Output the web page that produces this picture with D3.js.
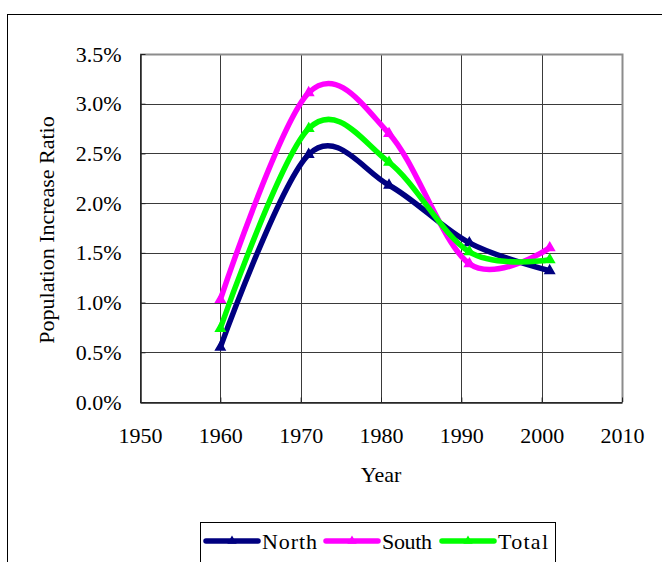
<!DOCTYPE html>
<html>
<head>
<meta charset="utf-8">
<script src="https://cdn.jsdelivr.net/npm/d3@7"></script>
<style>
  html, body { margin: 0; padding: 0; background: #fff; }
  svg { display: block; font-family: "Liberation Serif", "Times New Roman", serif; }
</style>
</head>
<body>
<svg id="chart" width="662" height="562"></svg>
<script>
// Census years and annual population increase ratio per region
const years = [1960, 1971, 1981, 1991, 2001];
const north = [0.0055, 0.0249, 0.0218, 0.0160, 0.0132];
const south = [0.0103, 0.0311, 0.0270, 0.0139, 0.0155];
const total = [0.0074, 0.0275, 0.0241, 0.0151, 0.0143];

const seriesNames = ["North", "South", "Total"];
const seriesColors = ["#000080", "#ff00ff", "#00ff00"];
const seriesValues = [north, south, total];

const xTicks = [1950, 1960, 1970, 1980, 1990, 2000, 2010];
const yTicks = [0, 0.005, 0.010, 0.015, 0.020, 0.025, 0.030, 0.035];

const svg = d3.select("#chart");
const plot = { left: 140, top: 54, right: 622, bottom: 402 };
const FONT = "Liberation Serif, Times New Roman, serif";

// outer chart frame (runs off the right and bottom edges)
svg.append("rect")
  .attr("x", 7.5).attr("y", 14.5)
  .attr("width", 700).attr("height", 600)
  .attr("fill", "#fff").attr("stroke", "#000").attr("stroke-width", 1);

const x = d3.scaleLinear().domain([1950, 2010]).range([plot.left, plot.right]);
const y = d3.scaleLinear().domain([0, 0.035]).range([plot.bottom, plot.top]);

// gridlines
const grid = svg.append("g");
grid.selectAll("line.h").data(yTicks).join("line")
  .attr("x1", plot.left).attr("x2", plot.right)
  .attr("y1", d => Math.round(y(d)) + 0.5).attr("y2", d => Math.round(y(d)) + 0.5)
  .attr("stroke", "#3a3a3a").attr("stroke-width", 1);
grid.selectAll("line.v").data(xTicks).join("line")
  .attr("y1", plot.top).attr("y2", plot.bottom)
  .attr("x1", d => Math.round(x(d)) + 0.5).attr("x2", d => Math.round(x(d)) + 0.5)
  .attr("stroke", "#3a3a3a").attr("stroke-width", 1);

// plot frame: grey top/right edges, dark axes
svg.append("path")
  .attr("d", `M${plot.left},${plot.top + 0.5}H${plot.right + 0.5}V${plot.bottom}`)
  .attr("fill", "none").attr("stroke", "#8c8c8c").attr("stroke-width", 2);

const yAxis = d3.axisLeft(y).tickValues(yTicks).tickFormat(d3.format(".1%"))
  .tickSizeInner(-5).tickSizeOuter(0).tickPadding(19);
const gy = svg.append("g").attr("transform", `translate(${plot.left + 0.5},0)`).call(yAxis)
  .attr("font-family", FONT);
gy.select(".domain").attr("stroke", "#222").attr("stroke-width", 1.5);
gy.selectAll(".tick line").attr("stroke", "#222");
gy.selectAll(".tick text").attr("font-size", 22).attr("fill", "#000");

const xAxis = d3.axisBottom(x).tickValues(xTicks).tickFormat(d3.format("d"))
  .tickSizeInner(-5).tickSizeOuter(0).tickPadding(25);
const gx = svg.append("g").attr("transform", `translate(0,${plot.bottom + 0.5})`).call(xAxis)
  .attr("font-family", FONT);
gx.select(".domain").attr("stroke", "#222").attr("stroke-width", 1.5);
gx.selectAll(".tick line").attr("stroke", "#222");
gx.selectAll(".tick text").attr("font-size", 22).attr("fill", "#000");

// axis titles
svg.append("text")
  .attr("transform", "translate(54,230) rotate(-90)")
  .attr("text-anchor", "middle").attr("font-size", 22)
  .text("Population Increase Ratio");
svg.append("text")
  .attr("x", 381).attr("y", 482)
  .attr("text-anchor", "middle").attr("font-size", 22)
  .text("Year");

// smoothed series lines with triangle markers
const line = d3.line()
  .x((d, i) => x(years[i]))
  .y(d => y(d))
  .curve(d3.curveCatmullRom.alpha(0));
const tri = d3.symbol().type(d3.symbolTriangle).size(38);

seriesValues.forEach((vals, s) => {
  const g = svg.append("g");
  g.append("path")
    .attr("d", line(vals))
    .attr("fill", "none")
    .attr("stroke", seriesColors[s])
    .attr("stroke-width", 5.5)
    .attr("stroke-linejoin", "round")
    .attr("stroke-linecap", "butt");
  g.selectAll("path.m").data(vals).join("path")
    .attr("class", "m")
    .attr("d", tri)
    .attr("transform", (d, i) => `translate(${x(years[i])},${y(d)})`)
    .attr("fill", seriesColors[s])
    .attr("stroke", seriesColors[s])
    .attr("stroke-width", 1.5);
});

// legend
const legend = svg.append("g");
legend.append("rect")
  .attr("x", 200.5).attr("y", 522.5)
  .attr("width", 355).attr("height", 60)
  .attr("fill", "#fff").attr("stroke", "#000").attr("stroke-width", 1);
const legendX = [206, 326, 442];
const legendTextLen = [55, 50, 50];
seriesNames.forEach((name, s) => {
  const lx = legendX[s];
  legend.append("line")
    .attr("x1", lx).attr("x2", lx + 52)
    .attr("y1", 541).attr("y2", 541)
    .attr("stroke", seriesColors[s]).attr("stroke-width", 5.5)
    .attr("stroke-linecap", "round");
  legend.append("path")
    .attr("d", tri)
    .attr("transform", `translate(${lx + 26},541)`)
    .attr("fill", seriesColors[s]);
  legend.append("text")
    .attr("x", lx + 56).attr("y", 548.5)
    .attr("font-size", 22)
    .attr("textLength", legendTextLen[s])
    .attr("lengthAdjust", "spacing")
    .text(name);
});
</script>
</body>
</html>
